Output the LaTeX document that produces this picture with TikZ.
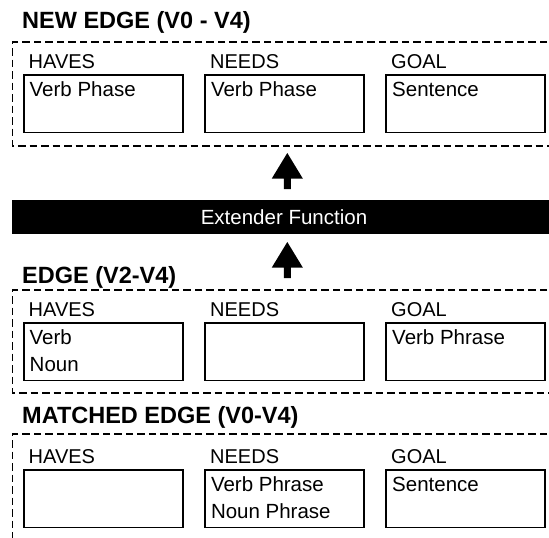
\documentclass[tikz,border=0pt]{standalone}
\usepackage{fontspec}
\setmainfont{Liberation Sans}
\tikzset{
  frame/.style={draw=black, line width=1.5pt, dash pattern=on 7.5pt off 4pt},
  cell/.style={draw=black, line width=1.8pt, minimum width=159pt, minimum height=57.5pt, inner sep=0pt, anchor=north west},
  title/.style={font=\fontsize{23.5}{27}\selectfont\bfseries, anchor=base west, inner sep=0pt},
  lbl/.style={font=\fontsize{20}{24}\selectfont, anchor=base west, inner sep=0pt},
  content/.style={font=\fontsize{20.5}{24}\selectfont, anchor=base west, inner sep=0pt},
  bar/.style={fill=black, draw=none, inner sep=0pt, minimum width=537pt, minimum height=34pt, anchor=north west},
  bartext/.style={font=\fontsize{20.5}{24}\selectfont, text=white, inner sep=0pt},
  blockarrow/.pic={\fill[black] (0,0) -- (15.5,25.5) -- (3.5,25.5) -- (3.5,36) -- (-3.5,36) -- (-3.5,25.5) -- (-15.5,25.5) -- cycle;}
}
\begin{document}
\begin{tikzpicture}[x=1pt,y=-1pt]
\useasboundingbox (0,0) rectangle (549,538);
\clip (0,0) rectangle (549,538);
% ---------- section 1: NEW EDGE ----------
\node[title] (t1) at (22,28) {NEW EDGE (V0 - V4)};
\draw[frame] (570,42) -- (12.5,42) -- (12.5,146) -- (570,146);
\node[lbl] (h1) at (28.5,68) {HAVES};
\node[lbl] (n1) at (210,68) {NEEDS};
\node[lbl] (g1) at (391,68) {GOAL};
\node[cell] (bh1) at (22.7,74) {};
\node[cell] (bn1) at (204,74) {};
\node[cell] (bg1) at (385.3,74) {};
\node[content] (ch1) at (29.5,96) {Verb Phase};
\node[content] (cn1) at (210.8,96) {Verb Phase};
\node[content] (cg1) at (392,96) {Sentence};
% ---------- arrows and bar ----------
\pic (a1) at (287.3,153) {blockarrow};
\node[bar] (bar) at (12,200) {};
\node[bartext] (bt) at (284,217) {Extender Function};
\pic (a2) at (287.3,242) {blockarrow};
% ---------- section 2: EDGE ----------
\node[title] (t2) at (22,283) {EDGE (V2-V4)};
\draw[frame] (570,290) -- (12.5,290) -- (12.5,393) -- (570,393);
\node[lbl] (h2) at (28.5,316) {HAVES};
\node[lbl] (n2) at (210,316) {NEEDS};
\node[lbl] (g2) at (391,316) {GOAL};
\node[cell] (bh2) at (22.7,322) {};
\node[cell] (bn2) at (204,322) {};
\node[cell] (bg2) at (385.3,322) {};
\node[content] (ch2a) at (29.5,344) {Verb};
\node[content] (ch2b) at (29.5,371) {Noun};
\node[content] (cg2) at (392,344) {Verb Phrase};
% ---------- section 3: MATCHED EDGE ----------
\node[title] (t3) at (22,423) {MATCHED EDGE (V0-V4)};
\draw[frame] (570,434) -- (12.5,434) -- (12.5,545);
\node[lbl] (h3) at (28.5,463) {HAVES};
\node[lbl] (n3) at (210,463) {NEEDS};
\node[lbl] (g3) at (391,463) {GOAL};
\node[cell] (bh3) at (22.7,469) {};
\node[cell] (bn3) at (204,469) {};
\node[cell] (bg3) at (385.3,469) {};
\node[content] (cn3a) at (210.8,491) {Verb Phrase};
\node[content] (cn3b) at (210.8,518) {Noun Phrase};
\node[content] (cg3) at (392,491) {Sentence};
\end{tikzpicture}
\end{document}
